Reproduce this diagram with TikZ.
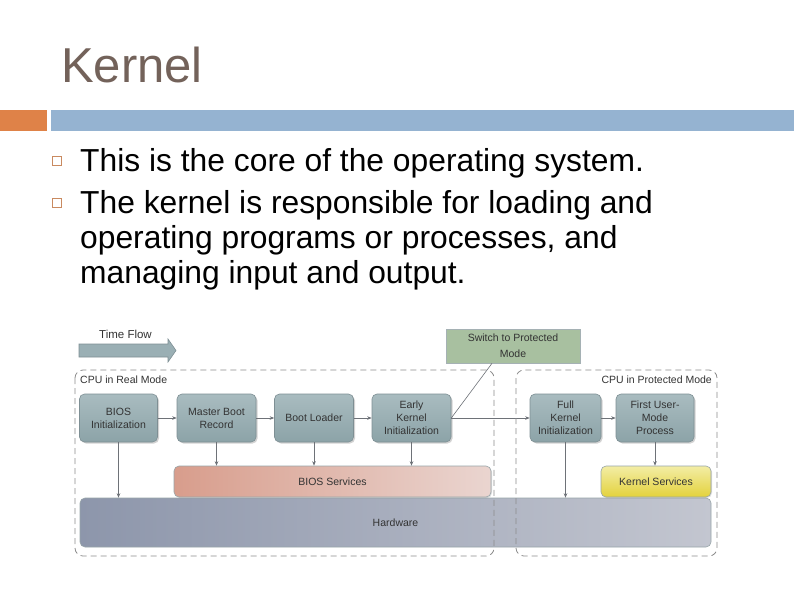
\documentclass[tikz,border=0pt]{standalone}
\usepackage{fontspec}
\setmainfont{Liberation Sans}
\usetikzlibrary{shadows,arrows.meta,calc}
\definecolor{titlec}{HTML}{73625A}
\definecolor{orangebar}{HTML}{DF8248}
\definecolor{bluebar}{HTML}{95B3D1}
\definecolor{bulletc}{HTML}{C98A60}
\definecolor{stepfill}{HTML}{9AAFB4}
\definecolor{steptop}{HTML}{A9BCC0}
\definecolor{stepbot}{HTML}{8CA3A8}
\definecolor{stepline}{HTML}{7E8F94}
\definecolor{switchc}{HTML}{A8C0A0}
\definecolor{dashc}{HTML}{8C8C8C}
\definecolor{linkc}{HTML}{6E7278}
\definecolor{txtc}{HTML}{333333}
\definecolor{hwl}{HTML}{8D96AB}
\definecolor{hwr}{HTML}{C3C6D0}
\definecolor{bsl}{HTML}{D89D8C}
\definecolor{bsr}{HTML}{EAD5D0}
\definecolor{kst}{HTML}{F3EDA5}
\definecolor{ksb}{HTML}{E3D23C}
\tikzset{
  stepbox/.style={draw=stepline, line width=0.6pt, rounded corners=5pt,
    top color=steptop, bottom color=stepbot, minimum height=48pt,
    align=center, font=\fontsize{10.5}{13}\selectfont, text=txtc,
    drop shadow={shadow xshift=1.5pt, shadow yshift=-1.5pt, opacity=0.35}},
  region/.style={draw=dashc, dash pattern=on 6pt off 4pt, line width=0.8pt, rounded corners=8pt},
  link/.style={draw=linkc, line width=0.6pt, -{Stealth[length=4.5pt,width=3.5pt]}},
  barbox/.style={draw=stepline!80, line width=0.6pt, rounded corners=5pt,
    font=\fontsize{10.5}{13}\selectfont, text=txtc},
  bullet/.style={draw=bulletc, line width=0.9pt, minimum size=9.5pt, inner sep=0pt},
  bodytext/.style={anchor=base west, inner sep=0pt, font=\fontsize{31.8}{35}\selectfont, text=black},
  lbl/.style={font=\fontsize{10.5}{13}\selectfont, text=txtc, inner sep=0pt}
}
\begin{document}
\begin{tikzpicture}[x=1pt,y=-1pt]
\useasboundingbox (0,0) rectangle (794,595);
\fill[white] (0,0) rectangle (794,595);
% title
\node[anchor=base west, inner sep=0pt, font=\fontsize{49}{55}\selectfont, text=titlec] (title) at (61,82) {Kernel};
% bars
\fill[orangebar] (0,110) rectangle (47,131);
\fill[bluebar] (51,110) rectangle (794,131);
% bullets
\node[bullet] (b1) at (57,161) {};
\node[bullet] (b2) at (57,203) {};
\node[bodytext] (l1) at (80,171) {This is the core of the operating system.};
\node[bodytext] (l2) at (80,213) {The kernel is responsible for loading and};
\node[bodytext] (l3) at (80,248) {operating programs or processes, and};
\node[bodytext] (l4) at (80,283) {managing input and output.};
% time flow
\node[lbl, anchor=west, font=\fontsize{11.5}{13}\selectfont] (tf) at (99,334) {Time Flow};
\draw[draw=stepline, fill=stepfill, line width=0.6pt]
  (79,344) -- (168,344) -- (168,339) -- (176,350.5) -- (168,362) -- (168,357) -- (79,357) -- cycle;
% switch box
\node[draw=stepline!70, fill=switchc, line width=0.6pt, minimum width=134pt, minimum height=34pt,
  align=center, font=\fontsize{10.5}{16}\selectfont, text=txtc] (switch) at (513,346) {Switch to Protected\\Mode};
% hardware and services
\node[barbox, left color=hwl, right color=hwr, minimum width=631pt, minimum height=49pt] (hw) at (395.5,522.5) {Hardware};
\node[barbox, left color=bsl, right color=bsr, minimum width=317pt, minimum height=31pt,
  drop shadow={shadow xshift=1pt, shadow yshift=-1pt, opacity=0.25}] (bios) at (332.5,481.5) {BIOS Services};
\node[barbox, top color=kst, bottom color=ksb, minimum width=110pt, minimum height=31pt,
  drop shadow={shadow xshift=1pt, shadow yshift=-1pt, opacity=0.25}] (ks) at (656,481.5) {Kernel Services};
% step boxes
\node[stepbox, minimum width=78pt] (bi) at (118.5,418) {BIOS\\Initialization};
\node[stepbox, minimum width=79pt] (mbr) at (216.5,418) {Master Boot\\Record};
\node[stepbox, minimum width=79pt] (bl) at (314,418) {Boot Loader};
\node[stepbox, minimum width=79pt] (ek) at (411.5,418) {Early\\Kernel\\Initialization};
\node[stepbox, minimum width=71pt] (fk) at (565.5,418) {Full\\Kernel\\Initialization};
\node[stepbox, minimum width=78pt] (fu) at (655,418) {First User-\\Mode\\Process};
% horizontal links
\draw[link] (bi) -- (mbr);
\draw[link] (mbr) -- (bl);
\draw[link] (bl) -- (ek);
\draw[link] (ek) -- (fk);
\draw[link] (fk) -- (fu);
\coordinate (swfoot) at ($(switch.south)+(-21,0)$);
\draw[draw=linkc, line width=0.6pt] (ek.east) -- (swfoot);
% vertical links
\draw[link] (bi.south) -- (bi.south |- hw.north);
\draw[link] (mbr.south) -- (mbr.south |- bios.north);
\draw[link] (bl.south) -- (bl.south |- bios.north);
\draw[link] (ek.south) -- (ek.south |- bios.north);
\draw[link] (fk.south) -- (fk.south |- hw.north);
\draw[link] (fu.south) -- (fu.south |- ks.north);
% regions (on top)
\draw[region] (75,370) rectangle (494,556);
\draw[region] (516,370) rectangle (717,556);
\node[lbl, anchor=west] (real) at (80,380) {CPU in Real Mode};
\node[lbl, anchor=east] (prot) at (712,380) {CPU in Protected Mode};
\end{tikzpicture}
\end{document}
